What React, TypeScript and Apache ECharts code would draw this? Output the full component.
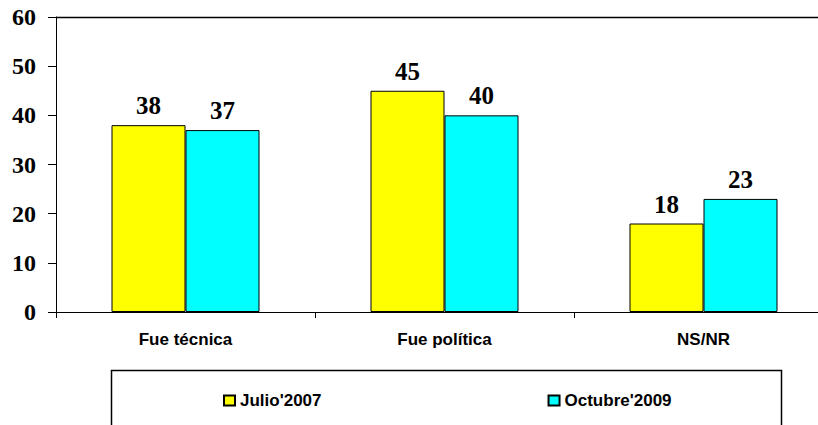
import React, { useEffect, useRef } from "react";
import * as echarts from "echarts";

const categories = ["Fue técnica", "Fue política", "NS/NR"];
const julio2007 = [38, 45, 18];
const octubre2009 = [37, 40, 23];
const seriesNames = ["Julio'2007", "Octubre'2009"];
const yTicks = { min: 0, max: 60, interval: 10 };

export default function App() {
  const ref = useRef<HTMLDivElement>(null);
  useEffect(() => {
    if (!ref.current) return;
    const chart = echarts.init(ref.current, null, { renderer: "svg" });
    const labelStyle = {
      show: true,
      position: "top" as const,
      distance: 7,
      fontFamily: "'Liberation Serif', 'Times New Roman', serif",
      fontWeight: "bold" as const,
      fontSize: 25,
      color: "#000",
    };
    chart.setOption({
      animation: false,
      backgroundColor: "#fff",
      grid: {
        left: 56,
        top: 17,
        right: -15,
        bottom: 113,
        containLabel: false,
        outerBoundsMode: "none",
      },
      legend: {
        left: 223,
        top: 392,
        padding: 0,
        itemWidth: 11,
        itemHeight: 10,
        itemGap: 226,
        icon: "rect",
        textStyle: {
          fontFamily: "'Liberation Sans', Arial, sans-serif",
          fontWeight: "bold",
          fontSize: 17,
          color: "#000",
        },
        data: seriesNames,
      },
      xAxis: {
        type: "category",
        data: categories,
        axisLine: { lineStyle: { color: "#000", width: 1 } },
        axisTick: { show: true, length: 6, lineStyle: { color: "#000" } },
        axisLabel: {
          margin: 19,
          fontFamily: "'Liberation Sans', Arial, sans-serif",
          fontWeight: "bold",
          fontSize: 17,
          color: "#000",
        },
      },
      yAxis: {
        type: "value",
        min: yTicks.min,
        max: yTicks.max,
        interval: yTicks.interval,
        axisLine: { show: true, lineStyle: { color: "#000", width: 1 } },
        axisTick: { show: true, length: 8, lineStyle: { color: "#000" } },
        splitLine: { show: false },
        axisLabel: {
          margin: 20,
          fontFamily: "'Liberation Serif', 'Times New Roman', serif",
          fontWeight: "bold",
          fontSize: 24,
          color: "#000",
        },
      },
      graphic: [
        {
          type: "line",
          shape: { x1: 56, y1: 17.5, x2: 818, y2: 17.5 },
          style: { stroke: "#000", lineWidth: 1.5 },
          z: 10,
        },
        {
          type: "rect",
          shape: { x: 111.5, y: 370.5, width: 670, height: 80 },
          style: { fill: "none", stroke: "#000", lineWidth: 1.5 },
          z: 0,
        },
      ],
      series: [
        {
          name: seriesNames[0],
          type: "bar",
          data: julio2007,
          barWidth: 74,
          barGap: "0%",
          itemStyle: { color: "#FFFF00", borderColor: "#000", borderWidth: 1 },
          label: labelStyle,
        },
        {
          name: seriesNames[1],
          type: "bar",
          data: octubre2009,
          barWidth: 74,
          barGap: "0%",
          itemStyle: { color: "#00FFFF", borderColor: "#000", borderWidth: 1 },
          label: labelStyle,
        },
      ],
    });
    return () => chart.dispose();
  }, []);
  return <div ref={ref} style={{ width: 818, height: 425, position: "absolute", left: 0, top: 0 }} />;
}
